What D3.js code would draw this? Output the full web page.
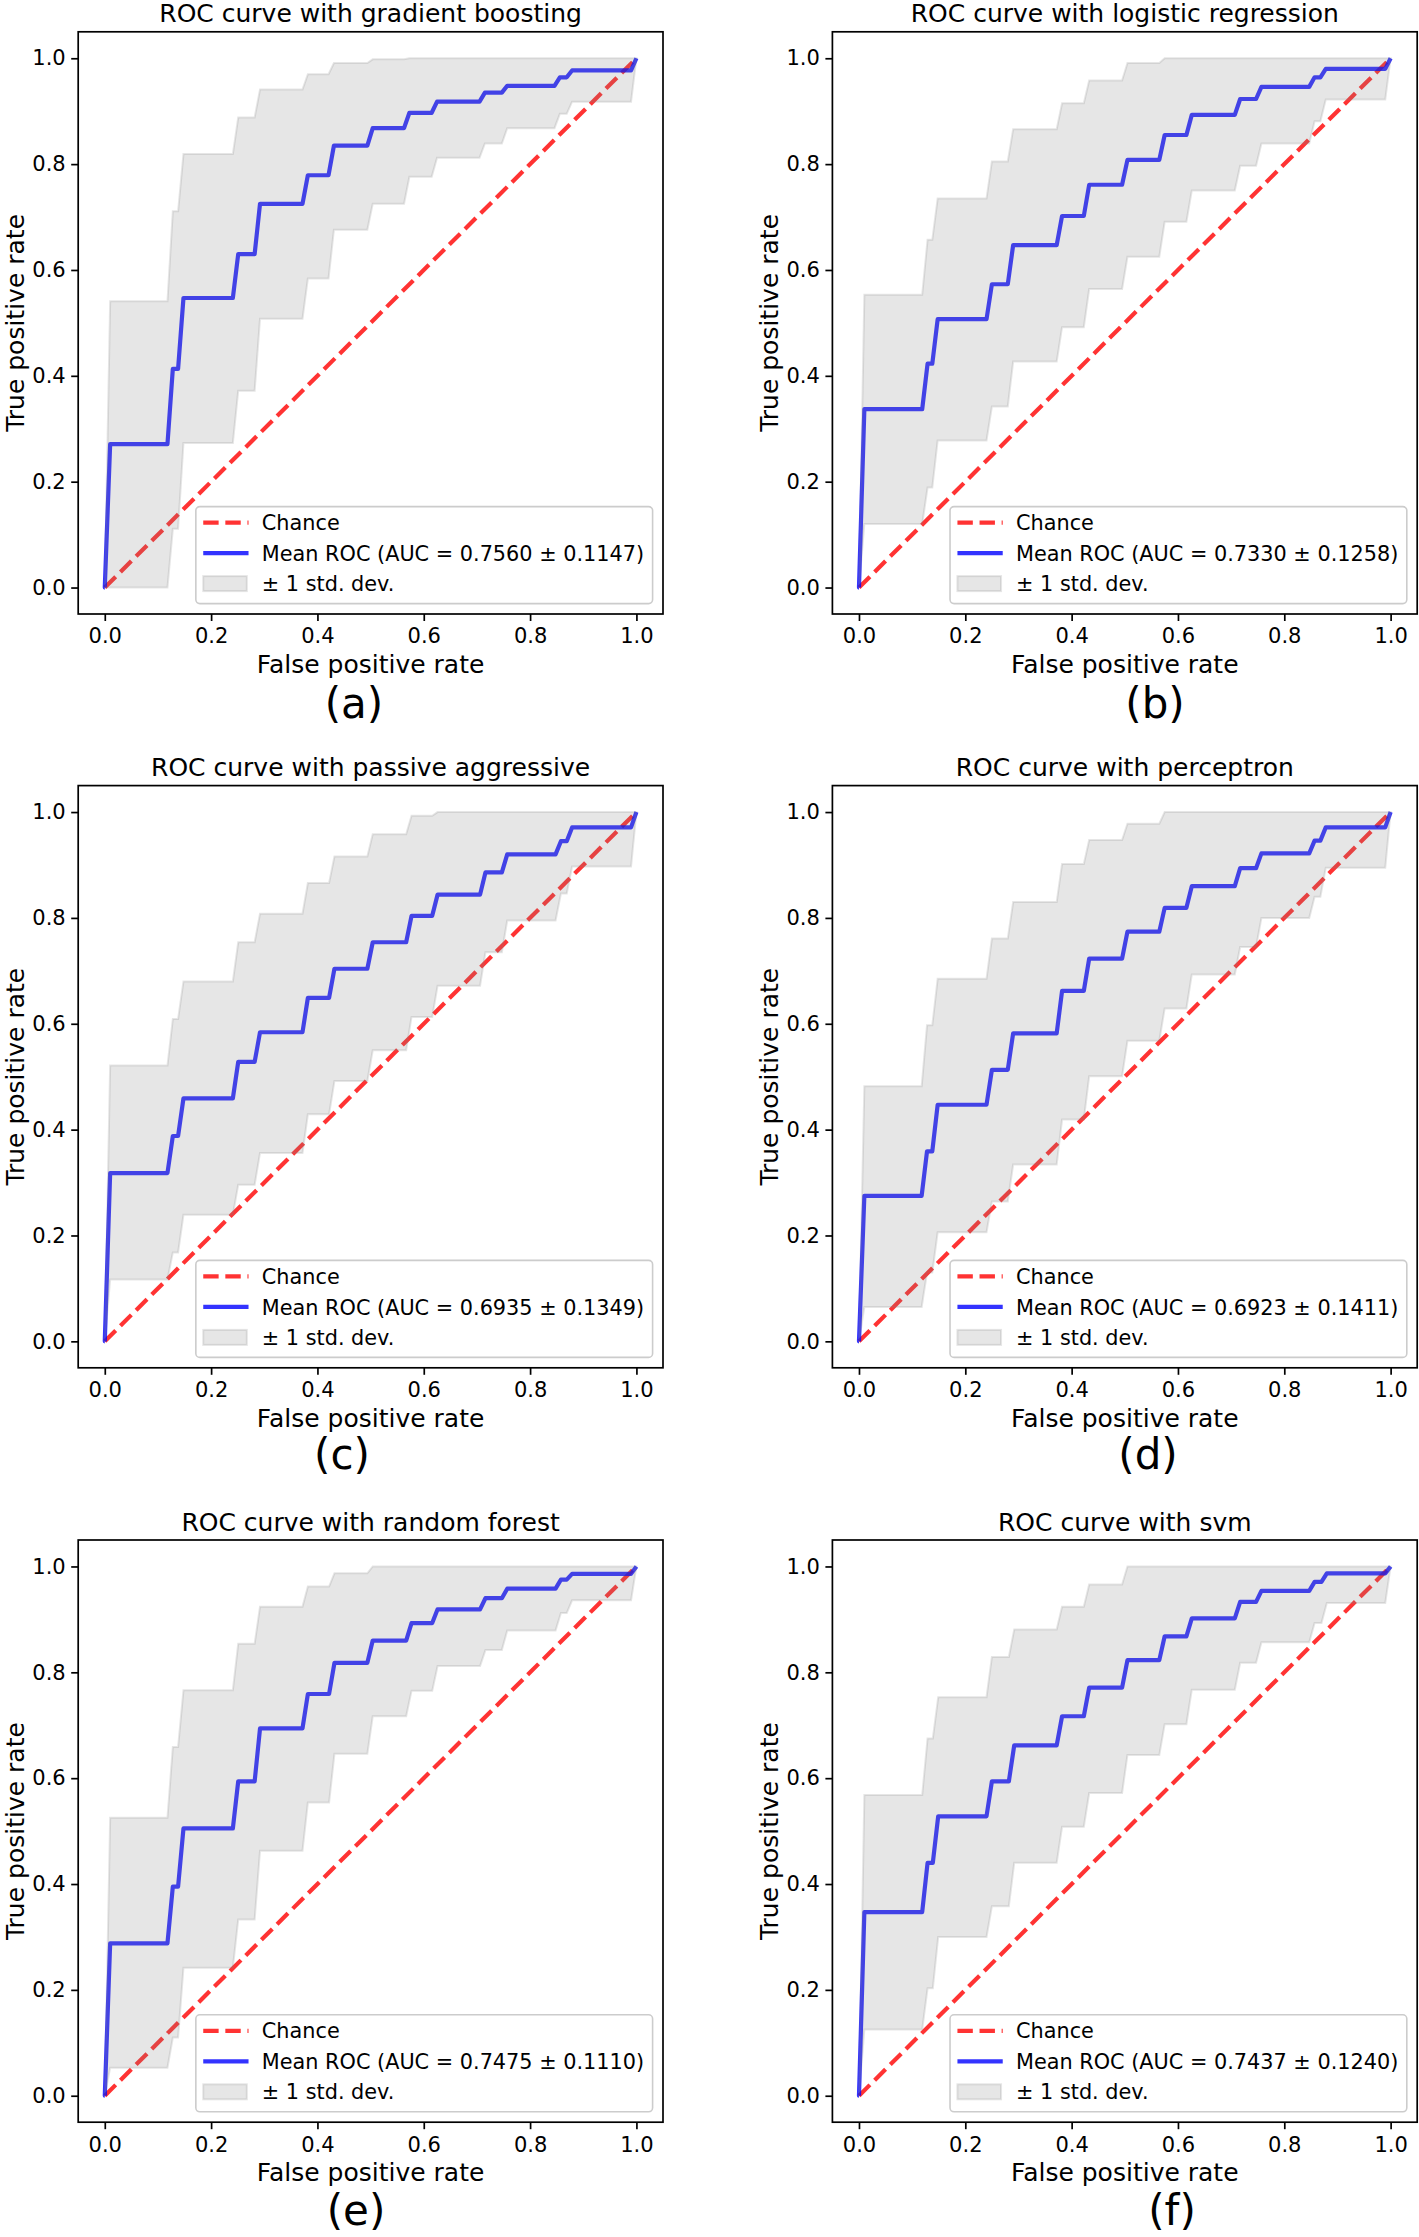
<!DOCTYPE html>
<html>
<head>
<meta charset="utf-8" />
<script src="https://cdnjs.cloudflare.com/ajax/libs/d3/7.8.5/d3.min.js"></script>
<style>
body { margin: 0; background: #fff; }
svg text { font-family: "DejaVu Sans", sans-serif; fill: #000; }
</style>
</head>
<body>
<svg id="fig" width="1419" height="2237"></svg>
<script>
// ---- values ----
var titles = ["ROC curve with gradient boosting", "ROC curve with logistic regression",
              "ROC curve with passive aggressive", "ROC curve with perceptron",
              "ROC curve with random forest", "ROC curve with svm"];
var captions = ["(a)", "(b)", "(c)", "(d)", "(e)", "(f)"];
var aucMean = ["0.7560", "0.7330", "0.6935", "0.6923", "0.7475", "0.7437"];
var aucStd  = ["0.1147", "0.1258", "0.1349", "0.1411", "0.1110", "0.1240"];
var tickValues = [0, 0.2, 0.4, 0.6, 0.8, 1.0];

// fpr where each step of the mean curve ends, and tpr levels (mean, mean+std, mean-std)
var fprA   = [0, 0.0101, 0.128, 0.148, 0.251, 0.292, 0.382, 0.431, 0.504, 0.573, 0.625, 0.715, 0.757, 0.856, 0.879, 1.0];
var meanA  = [0, 0.271, 0.413, 0.547, 0.630, 0.725, 0.779, 0.835, 0.868, 0.897, 0.918, 0.935, 0.948, 0.964, 0.977, 1.0];
var upperA = [0, 0.541, 0.711, 0.819, 0.888, 0.941, 0.970, 0.991, 0.998, 1, 1, 1, 1, 1, 1, 1];
var lowerA = [0, 0, 0.111, 0.273, 0.372, 0.508, 0.584, 0.676, 0.725, 0.776, 0.812, 0.839, 0.868, 0.895, 0.918, 1.0];

var fprB   = [0, 0.0101, 0.129, 0.148, 0.250, 0.290, 0.382, 0.433, 0.505, 0.575, 0.626, 0.717, 0.757, 0.857, 0.878, 1.0];
var meanB  = [0, 0.337, 0.423, 0.507, 0.573, 0.647, 0.702, 0.761, 0.808, 0.855, 0.893, 0.923, 0.946, 0.964, 0.980, 1.0];
var upperB = [0, 0.553, 0.657, 0.735, 0.805, 0.866, 0.915, 0.958, 0.991, 1, 1, 1, 1, 1, 1, 1];
var lowerB = [0, 0.120, 0.189, 0.278, 0.342, 0.427, 0.492, 0.564, 0.625, 0.691, 0.750, 0.797, 0.839, 0.881, 0.922, 1.0];

var fprC   = [0, 0.0101, 0.128, 0.148, 0.251, 0.292, 0.382, 0.432, 0.504, 0.577, 0.626, 0.716, 0.757, 0.858, 0.879, 1.0];
var meanC  = [0, 0.318, 0.388, 0.459, 0.528, 0.584, 0.649, 0.704, 0.754, 0.804, 0.844, 0.886, 0.920, 0.945, 0.971, 1.0];
var upperC = [0, 0.521, 0.609, 0.680, 0.754, 0.808, 0.866, 0.916, 0.958, 0.993, 1, 1, 1, 1, 1, 1];
var lowerC = [0, 0.117, 0.168, 0.239, 0.296, 0.356, 0.429, 0.492, 0.550, 0.613, 0.672, 0.735, 0.795, 0.846, 0.897, 1.0];

var fprD   = [0, 0.0101, 0.128, 0.148, 0.250, 0.290, 0.382, 0.433, 0.505, 0.575, 0.626, 0.717, 0.757, 0.857, 0.878, 1.0];
var meanD  = [0, 0.275, 0.359, 0.447, 0.513, 0.582, 0.662, 0.723, 0.774, 0.819, 0.860, 0.894, 0.922, 0.946, 0.971, 1.0];
var upperD = [0, 0.482, 0.597, 0.685, 0.761, 0.830, 0.902, 0.947, 0.978, 1, 1, 1, 1, 1, 1, 1];
var lowerD = [0, 0.065, 0.130, 0.206, 0.264, 0.334, 0.419, 0.501, 0.568, 0.629, 0.693, 0.745, 0.800, 0.840, 0.895, 1.0];

var fprE   = [0, 0.0101, 0.128, 0.148, 0.251, 0.292, 0.382, 0.432, 0.504, 0.577, 0.626, 0.716, 0.757, 0.858, 0.879, 1.0];
var meanE  = [0, 0.288, 0.395, 0.505, 0.594, 0.694, 0.759, 0.818, 0.860, 0.893, 0.919, 0.940, 0.958, 0.975, 0.986, 1.0];
var upperE = [0, 0.525, 0.659, 0.766, 0.854, 0.924, 0.962, 0.987, 1, 1, 1, 1, 1, 1, 1, 1];
var lowerE = [0, 0.053, 0.110, 0.242, 0.333, 0.463, 0.554, 0.646, 0.717, 0.765, 0.812, 0.842, 0.879, 0.912, 0.936, 1.0];

var fprF   = [0, 0.0101, 0.129, 0.149, 0.250, 0.292, 0.382, 0.433, 0.505, 0.575, 0.626, 0.717, 0.757, 0.857, 0.880, 1.0];
var meanF  = [0, 0.347, 0.440, 0.528, 0.594, 0.662, 0.717, 0.771, 0.823, 0.868, 0.902, 0.933, 0.954, 0.971, 0.987, 1.0];
var upperF = [0, 0.568, 0.675, 0.753, 0.829, 0.881, 0.924, 0.966, 1, 1, 1, 1, 1, 1, 1, 1];
var lowerF = [0, 0.125, 0.203, 0.300, 0.358, 0.440, 0.508, 0.572, 0.644, 0.702, 0.767, 0.818, 0.857, 0.893, 0.931, 1.0];

var panels = [
  {fpr: fprA, mean: meanA, upper: upperA, lower: lowerA},
  {fpr: fprB, mean: meanB, upper: upperB, lower: lowerB},
  {fpr: fprC, mean: meanC, upper: upperC, lower: lowerC},
  {fpr: fprD, mean: meanD, upper: upperD, lower: lowerD},
  {fpr: fprE, mean: meanE, upper: upperE, lower: lowerE},
  {fpr: fprF, mean: meanF, upper: upperF, lower: lowerF}
];

// ---- layout ----
var colLeft = [78.2, 832.4], axW = 584.8;
var rowTop = [31.8, 785.6, 1540], axH = 582.2;
var captionX = [354, 1155, 342, 1148, 356, 1172];
var captionDy = [103.5, 101.5, 103];
var gridStep = 1 / 99;   // spacing of the interpolated fpr grid (rise width)

var svg = d3.select("#fig");

function stepPoints(p) {
  var pts = [{x: p.fpr[0], m: p.mean[0], hi: p.upper[0], lo: p.lower[0]}];
  for (var i = 1; i < p.fpr.length; i++) {
    pts.push({x: p.fpr[i] - gridStep, m: p.mean[i-1], hi: p.upper[i-1], lo: p.lower[i-1]});
    pts.push({x: p.fpr[i], m: p.mean[i], hi: p.upper[i], lo: p.lower[i]});
  }
  return pts;
}

panels.forEach(function(p, k) {
  var col = k % 2, row = Math.floor(k / 2);
  var left = colLeft[col], top = rowTop[row];
  var x = d3.scaleLinear().domain([-0.05, 1.05]).range([left, left + axW]);
  var y = d3.scaleLinear().domain([-0.05, 1.05]).range([top + axH, top]);
  var g = svg.append("g");
  var pts = stepPoints(p);

  // chance line
  g.append("path")
    .datum([[0, 0], [1, 1]])
    .attr("d", d3.line().x(function(d){return x(d[0]);}).y(function(d){return y(d[1]);}))
    .attr("fill", "none").attr("stroke", "red").attr("stroke-opacity", 0.8)
    .attr("stroke-width", 4.2).attr("stroke-dasharray", "15.4,6.7");

  // mean ROC
  g.append("path")
    .datum(pts)
    .attr("d", d3.line().x(function(d){return x(d.x);}).y(function(d){return y(d.m);}))
    .attr("fill", "none").attr("stroke", "blue").attr("stroke-opacity", 0.8)
    .attr("stroke-width", 4.2).attr("stroke-linejoin", "round");

  // +- 1 std band
  g.append("path")
    .datum(pts)
    .attr("d", d3.area().x(function(d){return x(d.x);})
      .y0(function(d){return y(d.lo);}).y1(function(d){return y(d.hi);}))
    .attr("fill", "grey").attr("fill-opacity", 0.2)
    .attr("stroke", "grey").attr("stroke-opacity", 0.2).attr("stroke-width", 2);

  // axes
  var xa = g.append("g").attr("transform", "translate(0," + (top + axH) + ")")
    .call(d3.axisBottom(x).tickValues(tickValues).tickFormat(d3.format(".1f"))
      .tickSize(7).tickPadding(7.5));
  var ya = g.append("g").attr("transform", "translate(" + left + ",0)")
    .call(d3.axisLeft(y).tickValues(tickValues).tickFormat(d3.format(".1f"))
      .tickSize(7).tickPadding(5.5));
  [xa, ya].forEach(function(a) {
    a.select(".domain").remove();
    a.selectAll("line").attr("stroke", "#000").attr("stroke-width", 1.7);
    a.selectAll("text").attr("font-size", 21).attr("font-family", "DejaVu Sans").attr("fill", "#000");
  });

  g.append("rect").attr("x", left).attr("y", top).attr("width", axW).attr("height", axH)
    .attr("fill", "none").attr("stroke", "#000").attr("stroke-width", 1.7);

  // texts
  g.append("text").attr("x", left + axW / 2).attr("y", top - 9.5)
    .attr("text-anchor", "middle").attr("font-size", 25).text(titles[k]);
  g.append("text").attr("x", left + axW / 2).attr("y", top + axH + 59)
    .attr("text-anchor", "middle").attr("font-size", 25).text("False positive rate");
  g.append("text").attr("transform", "translate(" + (left - 54) + "," + (top + axH / 2) + ") rotate(-90)")
    .attr("text-anchor", "middle").attr("font-size", 25).text("True positive rate");
  g.append("text").attr("x", captionX[k]).attr("y", top + axH + captionDy[row])
    .attr("text-anchor", "middle").attr("font-size", 42).text(captions[k]);

  // legend (lower right)
  var lg = g.append("g");
  var frame = lg.append("rect");
  var labels = ["Chance", "Mean ROC (AUC = " + aucMean[k] + " \u00b1 " + aucStd[k] + ")", "\u00b1 1 std. dev."];
  var rowsY = [16, 46.5, 77];
  var legH = 97, legRight = left + axW - 10.4, legBottom = top + axH - 10.4;
  var texts = labels.map(function(t, i) {
    return lg.append("text").attr("y", legBottom - legH + rowsY[i] + 7.6).attr("font-size", 20.8).text(t);
  });
  var maxLen = d3.max(texts, function(t){ return t.node().getComputedTextLength(); });
  var legW = 66 + maxLen + 8.5, legLeft = legRight - legW, legTop = legBottom - legH;
  frame.attr("x", legLeft).attr("y", legTop).attr("width", legW).attr("height", legH)
    .attr("rx", 4).attr("fill", "#fff").attr("fill-opacity", 0.8)
    .attr("stroke", "#cccccc").attr("stroke-width", 1.6);
  texts.forEach(function(t){ t.attr("x", legLeft + 66); });
  lg.append("line").attr("x1", legLeft + 7.4).attr("x2", legLeft + 52.7)
    .attr("y1", legTop + rowsY[0]).attr("y2", legTop + rowsY[0])
    .attr("stroke", "red").attr("stroke-opacity", 0.8).attr("stroke-width", 4.2)
    .attr("stroke-dasharray", "15.4,6.7");
  lg.append("line").attr("x1", legLeft + 7.4).attr("x2", legLeft + 52.7)
    .attr("y1", legTop + rowsY[1]).attr("y2", legTop + rowsY[1])
    .attr("stroke", "blue").attr("stroke-opacity", 0.8).attr("stroke-width", 4.2);
  lg.append("rect").attr("x", legLeft + 7.4).attr("y", legTop + rowsY[2] - 7.5)
    .attr("width", 43.6).attr("height", 15)
    .attr("fill", "grey").attr("fill-opacity", 0.2)
    .attr("stroke", "grey").attr("stroke-opacity", 0.2).attr("stroke-width", 2);
});
</script>
</body>
</html>
